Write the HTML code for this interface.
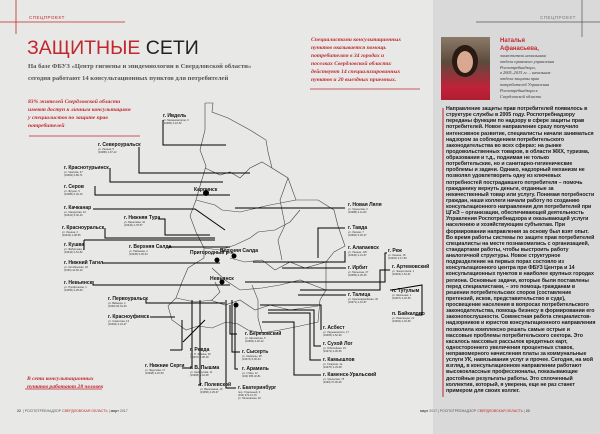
<!DOCTYPE html>
<html><head><meta charset="utf-8"><style>
*{margin:0;padding:0;box-sizing:border-box}
body{width:600px;height:434px;overflow:hidden;background:#e8e8e7;font-family:"Liberation Sans","Noto Sans CJK SC",sans-serif;position:relative}
.a{position:absolute;white-space:nowrap}
.l{font-size:5px;font-weight:bold;color:#111;line-height:5px}
.l small{display:block;font-size:2.6px;font-weight:normal;line-height:3px;color:#333}
.red{color:#c1272d}
.it{font-family:"Liberation Serif",serif;font-style:italic;font-weight:bold;color:#c1272d;font-size:5.6px;line-height:8px}
.body{font-size:5.3px;line-height:6.12px;color:#1a1a1a;font-weight:bold;white-space:normal;width:150px;letter-spacing:-0.05px}
</style></head><body>
<div class="a" style="left:433px;top:0;width:167px;height:434px;background:#d9d9d9"></div>
<svg class="a" style="left:0;top:0" width="600" height="434">
<g stroke="#c1272d" stroke-width="0.8"><line x1="16" y1="0" x2="16" y2="34"/><line x1="0" y1="22" x2="125" y2="22"/>
<line x1="29" y1="136" x2="140" y2="136"/><line x1="310" y1="89" x2="420" y2="89"/><line x1="25" y1="389" x2="102" y2="389"/>
<line x1="443" y1="108" x2="443" y2="397" stroke-width="1"/></g>
<g stroke="#555" stroke-width="0.7"><line x1="582" y1="0" x2="582" y2="37"/><line x1="476" y1="22" x2="600" y2="22"/></g>
<g fill="none" stroke="#444" stroke-width="0.6">
<polyline points="205,103 213,103 212,112 228,118 250,130 266,140 268,152 272,168 288,178 296,200 318,200 334,210 338,226 345,246 334,252 326,262 326,290 320,300 318,322 300,326 280,330 262,333 248,330 238,324 226,322 212,328 198,326 186,330 172,320 168,306 176,298 182,282 188,268 204,258 204,248 196,232 190,216 196,200 200,186 206,166 200,150 205,130 205,103"/>
<polyline points="205,168 220,175 230,172 240,178 250,168 262,162 272,168"/>
<polyline points="196,200 215,205 222,210 240,212 270,205 296,200"/>
<polyline points="204,248 220,250 235,245 250,238 258,232 275,230 290,222 300,210"/>
<polyline points="230,258 245,262 262,260 275,270 290,262 305,268 326,262"/>
<polyline points="212,268 225,280 240,290 262,288 280,285 300,280 326,290"/>
<polyline points="210,300 225,305 240,300 255,310 270,305 290,310 318,306"/>
<polyline points="176,298 195,302 212,300 220,292 215,282"/>
<polyline points="252,285 258,300 258,318 262,333"/>
<polyline points="288,178 280,200 285,225 278,240 282,260"/>
</g>
<g fill="none" stroke="#000" stroke-width="1">
<polyline points="163,120 163,145 226,145"/>
<polyline points="139,147 139,173 250,173"/>
<polyline points="110,168 110,182 223,182"/>
<polyline points="95,186 95,195 230,195"/>
<polyline points="93,209 195,209 225,230"/>
<polyline points="158,219 165,219 165,235 210,235"/>
<polyline points="105,228 105,238 215,238"/>
<line x1="84" y1="240" x2="215" y2="240"/><line x1="84" y1="240" x2="84" y2="250"/>
<line x1="168" y1="247" x2="230" y2="247"/>
<line x1="102" y1="263" x2="220" y2="263"/>
<polyline points="93,281 93,285 230,285"/>
<polyline points="146,298 146,303 225,303"/>
<polyline points="150,317 175,317"/>
<polyline points="182,350 182,320"/><polyline points="182,350 170,350"/>
<polyline points="182,368 192,368 192,300"/>
<polyline points="198,385 200,385 200,300"/>
<polyline points="183,342 205,320"/>
<polyline points="237,334 230,334 230,305"/>
<polyline points="240,352 232,352 232,300"/>
<polyline points="238,369 235,369 235,305"/>
<polyline points="236,388 226,388 226,300"/>
<polyline points="345,208 235,208"/>
<polyline points="345,228 318,228 318,258"/>
<polyline points="345,251 345,262 253,262"/>
<polyline points="387,253 385,253 385,282 245,282"/>
<polyline points="346,268 282,268"/>
<polyline points="390,270 380,270 380,290 300,290"/>
<polyline points="390,290 392,290 422,285 422,315 415,315"/>
<polyline points="346,295 298,295"/>
<polyline points="321,330 321,305 260,305"/>
<polyline points="321,346 314,346 314,310 268,310"/>
<polyline points="321,360 310,360 310,313 268,313"/>
<polyline points="321,375 294,375 294,322 262,322"/>
</g>
<g fill="#000"><circle cx="206" cy="193" r="3"/><circle cx="234" cy="256" r="2.5"/><circle cx="217" cy="260" r="2.5"/><circle cx="222" cy="282" r="2.5"/><circle cx="236" cy="305" r="2.5"/></g>
</svg>
<div class="a" style="left:29px;top:15px;font-size:4.5px;color:#c1272d;letter-spacing:.5px">СПЕЦПРОЕКТ</div>
<div class="a" style="left:540px;top:15px;font-size:4.5px;color:#777;letter-spacing:.5px">СПЕЦПРОЕКТ</div>
<div class="a" style="left:27px;top:37px;font-size:19.5px;line-height:22px"><span class="red">ЗАЩИТНЫЕ</span> <span style="color:#222">СЕТИ</span></div>
<div class="a" style="left:28px;top:61px;font-family:'Liberation Serif',serif;font-weight:bold;font-size:6.6px;line-height:12px;color:#555">На базе ФБУЗ «Центр гигиены и эпидемиологии в Свердловской области»<br>сегодня работают 14 консультационных пунктов для потребителей</div>
<div class="a it" style="left:28px;top:98px">83% жителей Свердловской области<br>имеют доступ к личным консультациям<br>у специалистов по защите прав<br>потребителей</div>
<div class="a it" style="left:311px;top:36px">Специалистами консультационных<br>пунктов оказывается помощь<br>потребителям в 34 городах и<br>поселках Свердловской области:<br>действуют 14 специализированных<br>пунктов и 20 выездных приемных.</div>
<div class="a it" style="left:27px;top:375px">В сети консультационных<br>пунктов работают 28 человек</div>
<div class="a" style="left:17px;top:409px;font-size:3.5px;color:#555"><b>22</b> &nbsp;| РОСПОТРЕБНАДЗОР <span class="red">СВЕРДЛОВСКАЯ ОБЛАСТЬ</span> | <b>март</b> 2017</div>
<div class="a" style="left:420px;top:409px;font-size:3.5px;color:#555"><b>март</b> 2017 | РОСПОТРЕБНАДЗОР <span class="red">СВЕРДЛОВСКАЯ ОБЛАСТЬ</span> | <b>23</b></div>
<div class="a" style="left:441px;top:37px;width:49px;height:63px;background:linear-gradient(180deg,#8c7a68 0%,#5c4a3c 40%,#c0223a 80%,#b01e30 100%)"></div>
<div class="a" style="left:452px;top:45px;width:26px;height:32px;border-radius:50%;background:#2a1a14"></div>
<div class="a" style="left:457px;top:51px;width:16px;height:22px;border-radius:50%;background:#d8a890"></div>
<div class="a" style="left:500px;top:37px;font-size:6px;font-weight:bold;line-height:8px" ><span class="red">Наталья<br>Афанасьева,</span></div>
<div class="a" style="left:500px;top:53px;font-family:'Liberation Serif',serif;font-style:italic;font-size:4.3px;line-height:5.8px;color:#333">заместитель начальника<br>отдела правового управления<br>Роспотребнадзора,<br>в 2005–2015 гг. – начальник<br>отдела защиты прав<br>потребителей Управления<br>Роспотребнадзора в<br>Свердловской области</div>
<div class="a body" style="left:446px;top:106px">Направление защиты прав потребителей появилось в структуре службы в 2005 году. Роспотребнадзору переданы функции по надзору в сфере защиты прав потребителей. Новое направление сразу получило интенсивное развитие, специалисты начали заниматься надзором за соблюдением потребительского законодательства во всех сферах: на рынке продовольственных товаров, в области ЖКХ, туризма, образования и т.д., поднимая не только потребительские, но и санитарно-гигиенические проблемы и задачи. Однако, надзорный механизм не позволял удовлетворить одну из ключевых потребностей пострадавшего потребителя – помочь гражданину вернуть деньги, отданные за некачественный товар или услугу. Понимая потребности граждан, наши коллеги начали работу по созданию консультационного направления для потребителей при ЦГиЭ – организации, обеспечивающей деятельность Управления Роспотребнадзора и оказывающей услуги населению и хозяйствующим субъектам. При формировании направления за основу был взят опыт. Во время работы системы по защите прав потребителей специалисты на месте познакомились с организацией, стандартами работы, чтобы выстроить работу аналогичной структуры. Новое структурное подразделение на первых порах состояло из консультационного центра при ФБУЗ Центра и 14 консультационных пунктов в наиболее крупных городах региона. Основные задачи, которые были поставлены перед специалистами, – это помощь гражданам в решении потребительских споров (составление претензий, исков, представительство в суде), просвещение населения в вопросах потребительского законодательства, помощь бизнесу в формировании его законопослушности. Совместная работа специалистов-надзорников и юристов консультационного направления позволила комплексно решать самые острые и массовые проблемы потребительского сектора. Это касалось массовых рассылок кредитных карт, одностороннего увеличения процентных ставок, неправомерного начисления платы за коммунальные услуги УК, навязывания услуг и прочее. Сегодня, на мой взгляд, в консультационном направлении работают высококлассные профессионалы, показывающие достойные результаты работы. Это сплоченный коллектив, который, я уверена, еще не раз станет примером для своих коллег.</div>
<div class="a l" style="left:163px;top:114px">г. Ивдель<small>ул. Механизаторов, 6<br>(34386) 2-10-52</small></div>
<div class="a l" style="left:98px;top:143px">г. Североуральск<small>ул. Ленина, 5<br>(34380) 2-67-12</small></div>
<div class="a l" style="left:64px;top:166px">г. Краснотурьинск<small>ул. Чкалова, 27<br>(34384) 6-80-71</small></div>
<div class="a l" style="left:64px;top:185px">г. Серов<small>ул. Фрунзе, 5<br>(34385) 6-40-10</small></div>
<div class="a l" style="left:64px;top:206px">г. Качканар<small>ул. Свердлова, 16<br>(34341) 6-40-10</small></div>
<div class="a l" style="left:124px;top:216px">г. Нижняя Тура<small>ул. Береговая, 10<br>(34342) 2-78-57</small></div>
<div class="a l" style="left:62px;top:226px">г. Красноуральск<small>ул. Ленина, 2<br>(34343) 2-08-55</small></div>
<div class="a l" style="left:64px;top:243px">г. Кушва<small>ул. Фабричная, 8<br>(34344) 2-51-52</small></div>
<div class="a l" style="left:129px;top:245px">г. Верхняя Салда<small>ул. Районная, 2<br>(34345) 5-45-04</small></div>
<div class="a l" style="left:64px;top:261px">г. Нижний Тагил<small>ул. Октябрьская, 40<br>(3435) 41-92-10</small></div>
<div class="a l" style="left:64px;top:281px">г. Невьянск<small>ул. Профсоюзов, 1<br>(34356) 4-25-00</small></div>
<div class="a l" style="left:108px;top:297px">г. Первоуральск<small>ул. Вайнера, 4<br>(3439) 66-44-25</small></div>
<div class="a l" style="left:108px;top:315px">г. Красноуфимск<small>ул. Советская, 13<br>(34394) 2-24-47</small></div>
<div class="a l" style="left:145px;top:364px">г. Нижние Серги<small>ул. Федотова, 17<br>(34398) 2-16-50</small></div>
<div class="a l" style="left:190px;top:348px">г. Ревда<small>ул. П. Зыкина, 32<br>(34397) 3-38-18</small></div>
<div class="a l" style="left:190px;top:366px">г. В. Пышма<small>ул. Кривоусова, 11<br>(34368) 5-34-08</small></div>
<div class="a l" style="left:200px;top:383px">г. Полевской<small>ул. Вершинина, 19<br>(34350) 4-39-37</small></div>
<div class="a l" style="left:238px;top:386px">г. Екатеринбург<small>пер. Отдельный, 3<br>(343) 374-13-79<br>ул. Московская, 49</small></div>
<div class="a l" style="left:245px;top:332px">г. Березовский<small>ул. Шиловская, 5<br>(34369) 4-18-12</small></div>
<div class="a l" style="left:242px;top:350px">г. Сысерть<small>ул. Коммуны, 28<br>(34374) 6-00-04</small></div>
<div class="a l" style="left:242px;top:367px">г. Арамиль<small>ул. 1 Мая, 12<br>(343) 385-32-81</small></div>
<div class="a l" style="left:348px;top:203px">г. Новая Ляля<small>ул. Уральская, 2<br>(34388) 2-11-84</small></div>
<div class="a l" style="left:348px;top:226px">г. Тавда<small>ул. Лесная, 7<br>(34360) 5-26-27</small></div>
<div class="a l" style="left:348px;top:246px">г. Алапаевск<small>ул. Ленина, 125<br>(34346) 2-41-57</small></div>
<div class="a l" style="left:388px;top:249px">г. Реж<small>ул. Ленина, 18<br>(34364) 3-17-69</small></div>
<div class="a l" style="left:392px;top:265px">г. Артемовский<small>ул. Энергетиков, 1<br>(34363) 2-54-21</small></div>
<div class="a l" style="left:348px;top:266px">г. Ирбит<small>ул. Мальгина, 27<br>(34355) 6-36-25</small></div>
<div class="a l" style="left:392px;top:289px">п. Тугулым<small>ул. Школьная, 1<br>(34367) 2-18-45</small></div>
<div class="a l" style="left:348px;top:293px">г. Талица<small>ул. Красноармейская, 32<br>(34371) 2-16-87</small></div>
<div class="a l" style="left:392px;top:312px">п. Байкалово<small>ул. Революции, 21<br>(34362) 2-04-35</small></div>
<div class="a l" style="left:323px;top:326px">г. Асбест<small>ул. Ладыженского, 17<br>(34365) 2-52-90</small></div>
<div class="a l" style="left:323px;top:342px">г. Сухой Лог<small>ул. Юбилейная, 15<br>(34373) 4-36-66</small></div>
<div class="a l" style="left:323px;top:358px">г. Камышлов<small>ул. Гагарина, 1а<br>(34375) 2-33-08</small></div>
<div class="a l" style="left:323px;top:373px">г. Каменск-Уральский<small>ул. Уральская, 75<br>(3439) 37-00-06</small></div>
<div class="a l" style="left:194px;top:188px">Карпинск</div>
<div class="a l" style="left:190px;top:251px">Пригородный р-н</div>
<div class="a l" style="left:210px;top:277px">Невьянск</div>
<div class="a l" style="left:220px;top:249px">Верхняя Салда</div>
</body></html>
